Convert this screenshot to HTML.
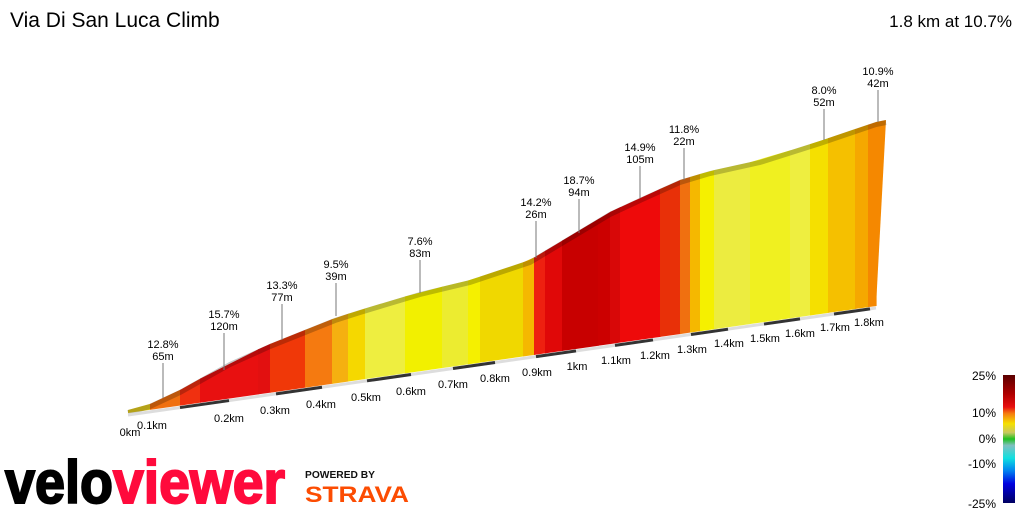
<!DOCTYPE html>
<html><head><meta charset="utf-8"><style>
html,body{margin:0;padding:0;background:#fff;}
svg{display:block;font-family:"Liberation Sans",Arial,sans-serif;}
</style></head><body>
<svg id="s" width="1024" height="512" viewBox="0 0 1024 512" xmlns="http://www.w3.org/2000/svg">
<defs>
<linearGradient id="lg" x1="0" y1="0" x2="0" y2="1">
<stop offset="0" stop-color="#5a0000"/>
<stop offset="0.15" stop-color="#b00000"/>
<stop offset="0.25" stop-color="#e81010"/>
<stop offset="0.3" stop-color="#f57a10"/>
<stop offset="0.38" stop-color="#f5e000"/>
<stop offset="0.45" stop-color="#c8c860"/>
<stop offset="0.5" stop-color="#20c020"/>
<stop offset="0.55" stop-color="#80c0c0"/>
<stop offset="0.65" stop-color="#10e0e0"/>
<stop offset="0.75" stop-color="#0080f0"/>
<stop offset="0.85" stop-color="#0000e0"/>
<stop offset="1" stop-color="#000060"/>
</linearGradient>
</defs>
<text x="10" y="27" font-size="21" fill="#000">Via Di San Luca Climb</text>
<text x="1012" y="27" font-size="17" fill="#000" text-anchor="end">1.8 km at 10.7%</text>
<g id="prof"></g>
<g id="ann" font-size="11" fill="#000" text-anchor="middle"></g>
<rect x="1003" y="375" width="12" height="128" fill="url(#lg)"/>
<g font-size="12" text-anchor="end" fill="#000">
<text x="996" y="380">25%</text><text x="996" y="417">10%</text><text x="996" y="443">0%</text><text x="996" y="468">-10%</text><text x="996" y="508">-25%</text>
</g>
<text x="5" y="503" font-size="60" font-weight="bold" fill="#000" textLength="108" lengthAdjust="spacingAndGlyphs" stroke="#000" stroke-width="2">velo</text>
<text x="113" y="503" font-size="60" font-weight="bold" fill="#ff0a3c" textLength="172" lengthAdjust="spacingAndGlyphs" stroke="#ff0a3c" stroke-width="2">viewer</text>
<text x="305" y="478" font-size="10.5" font-weight="bold" fill="#111" textLength="70" lengthAdjust="spacingAndGlyphs">POWERED BY</text>
<text x="305" y="502" font-size="22" font-weight="bold" fill="#fc4c02" textLength="104" lengthAdjust="spacingAndGlyphs">STRAVA</text>
</svg>
<script>
var pts=[[128,410],[150,404],[180,390],[230,362],[270,344],[300,332],[335,318],[360,310],[420,292],[470,280],[530,260],[560,242],[580,230],[610,212],[640,198],[680,180],[710,171],[760,160],[820,141],[876,122],[886,120]];
function ty(x){for(var i=0;i<pts.length-1;i++){var a=pts[i],b=pts[i+1];if(x>=a[0]&&x<=b[0])return a[1]+(b[1]-a[1])*(x-a[0])/(b[0]-a[0]);}return 120;}
function by(x){return 413-0.143*(x-128);}
var seg=[[128,"#e8d020"],[150,"#f07010"],[180,"#f03010"],[200,"#e81010"],[258,"#e21010"],[270,"#f03808"],[305,"#f57a10"],[332,"#f5b010"],[348,"#f5d800"],[365,"#eeee40"],[405,"#f2f000"],[442,"#ecec30"],[468,"#f5f000"],[480,"#f0d800"],[523,"#f5b800"],[534,"#ee2010"],[545,"#e00808"],[562,"#c80000"],[598,"#cc0000"],[610,"#d80808"],[620,"#ee0a0a"],[660,"#e83008"],[680,"#f07010"],[690,"#f5b800"],[700,"#f5f000"],[714,"#ecec40"],[750,"#f0f020"],[790,"#eeee40"],[810,"#f5e000"],[828,"#f5c000"],[855,"#f5a800"],[868,"#f58800"],[876,""]];
var g=document.getElementById("prof"),h="";
for(var i=0;i<seg.length-1;i++){var x0=seg[i][0],x1=seg[i+1][0];
 h+='<polygon fill="'+seg[i][1]+'" points="'+x0+','+ty(x0)+' '+(x1+0.6)+','+ty(x1+0.6)+' '+(x1+0.6)+','+by(x1+0.6)+' '+x0+','+by(x0)+'"/>';}
h+='<polygon fill="#f58800" points="876,122 886,120 876,306"/>';
var pl=pts.map(function(p){return p[0]+','+(p[1]+2.5)}).join(' ');
h+='<polyline points="'+pl+'" fill="none" stroke="#000" stroke-opacity="0.22" stroke-width="5"/>';
h+='<line x1="128" y1="415" x2="876" y2="308" stroke="#ddd" stroke-width="3"/>';
var km=[128,180,229,276,322,367,411,453,495,536,576,615,653,691,728,764,800,834,870];
for(var k=1;k<km.length-1;k+=2){h+='<line x1="'+km[k]+'" y1="'+(by(km[k])+2)+'" x2="'+km[k+1]+'" y2="'+(by(km[k+1])+2)+'" stroke="#333" stroke-width="3"/>';}
var lab=[["0km",130,432],["0.1km",152,425],["0.2km",229,418],["0.3km",275,410],["0.4km",321,404],["0.5km",366,397],["0.6km",411,391],["0.7km",453,384],["0.8km",495,378],["0.9km",537,372],["1km",577,366],["1.1km",616,360],["1.2km",655,355],["1.3km",692,349],["1.4km",729,343],["1.5km",765,338],["1.6km",800,333],["1.7km",835,327],["1.8km",869,322]];
lab.forEach(function(l){h+='<text x="'+l[1]+'" y="'+(l[2]+4)+'" font-size="11" text-anchor="middle" fill="#000">'+l[0]+'</text>';});
g.innerHTML=h;
var an=[["12.8%","65m",163,344,398],["15.7%","120m",224,314,370],["13.3%","77m",282,285,340],["9.5%","39m",336,264,316],["7.6%","83m",420,241,293],["14.2%","26m",536,202,258],["18.7%","94m",579,180,233],["14.9%","105m",640,147,198],["11.8%","22m",684,129,180],["8.0%","52m",824,90,140],["10.9%","42m",878,71,122]];
var a="";
an.forEach(function(v){a+='<text x="'+v[2]+'" y="'+(v[3]+4)+'">'+v[0]+'</text><text x="'+v[2]+'" y="'+(v[3]+16)+'">'+v[1]+'</text><line x1="'+v[2]+'" y1="'+(v[3]+19)+'" x2="'+v[2]+'" y2="'+v[4]+'" stroke="#777" stroke-width="1"/>';});
document.getElementById("ann").innerHTML=a;
</script>
</body></html>
